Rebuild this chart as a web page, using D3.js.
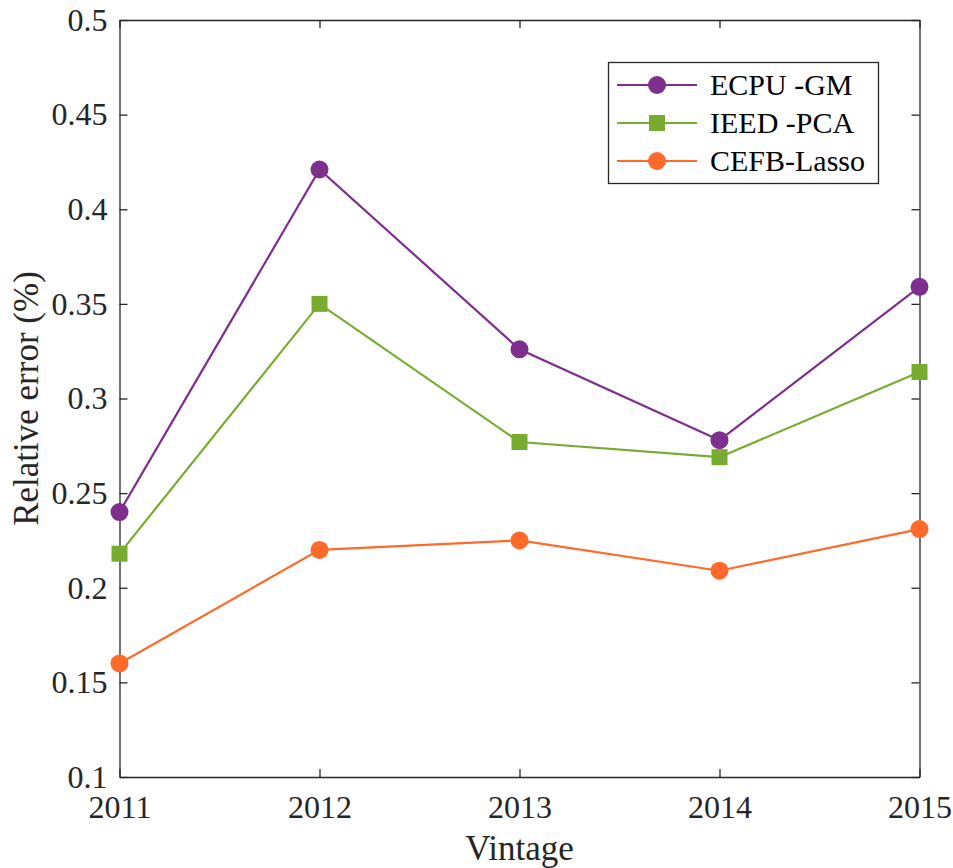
<!DOCTYPE html>
<html><head><meta charset="utf-8">
<script src="https://cdn.jsdelivr.net/npm/d3@7"></script>
<style>body{margin:0;background:#fff}</style>
</head><body>
<svg id="c" width="953" height="868"></svg>
<script>
const years = [2011, 2012, 2013, 2014, 2015];
const ecpuGM = [0.240, 0.421, 0.326, 0.278, 0.359];
const ieedPCA = [0.218, 0.350, 0.277, 0.269, 0.314];
const cefbLasso = [0.160, 0.220, 0.225, 0.209, 0.231];
const yTicks = [0.1, 0.15, 0.2, 0.25, 0.3, 0.35, 0.4, 0.45, 0.5];
const seriesNames = ["ECPU -GM", "IEED -PCA", "CEFB-Lasso"];
const seriesColors = ["#7E2F8E", "#77AC30", "#FF6929"];
const seriesMarkers = ["circle", "square", "circle"];

const svg = d3.select("#c");
const L = 119.5, R = 919.5, T = 20, B = 777;
const x = d3.scaleLinear().domain([2011, 2015]).range([L, R]);
const y = d3.scaleLinear().domain([0.1, 0.5]).range([B, T]);
const font = "'Liberation Serif', 'Times New Roman', serif";
const axCol = "#262626";

// axes
const gx = svg.append("g").attr("transform", `translate(0,${B})`)
  .call(d3.axisBottom(x).tickValues(years).tickFormat(d3.format("d")).tickSizeInner(-8).tickSizeOuter(0).tickPadding(18));
const gy = svg.append("g").attr("transform", `translate(${L},0)`)
  .call(d3.axisLeft(y).tickValues(yTicks).tickFormat(d => String(+d.toFixed(2))).tickSizeInner(-8).tickSizeOuter(0).tickPadding(12));
const gx2 = svg.append("g").attr("transform", `translate(0,${T})`)
  .call(d3.axisTop(x).tickValues(years).tickFormat("").tickSizeInner(-8).tickSizeOuter(0));
const gy2 = svg.append("g").attr("transform", `translate(${R},0)`)
  .call(d3.axisRight(y).tickValues(yTicks).tickFormat("").tickSizeInner(-8).tickSizeOuter(0));
[gx, gy, gx2, gy2].forEach(g => {
  g.attr("font-family", font).attr("font-size", 32);
  g.selectAll("path.domain").attr("stroke", axCol).attr("stroke-width", 1.3);
  g.selectAll(".tick line").attr("stroke", axCol).attr("stroke-width", 1.3);
  g.selectAll(".tick text").attr("fill", axCol).style("font-family", font).style("font-size", "32px");
});

// labels
svg.append("text").attr("x", x(2013)).attr("y", 860).attr("text-anchor", "middle")
  .style("font-family", font).style("font-size", "35px").attr("fill", axCol).text("Vintage");
svg.append("text").attr("transform", `translate(38,${(T + B) / 2}) rotate(-90)`).attr("text-anchor", "middle")
  .style("font-family", font).style("font-size", "35px").attr("fill", axCol).text("Relative error (%)");

const allSeries = [ecpuGM, ieedPCA, cefbLasso];
const line = d3.line().x((d, i) => x(years[i])).y(d => y(d));

function marker(g, type, cx, cy, color) {
  if (type === "circle") {
    g.append("circle").attr("cx", cx).attr("cy", cy).attr("r", 9).attr("fill", color);
  } else {
    g.append("rect").attr("x", cx - 8).attr("y", cy - 8).attr("width", 16).attr("height", 16).attr("fill", color);
  }
}

allSeries.forEach((vals, s) => {
  const g = svg.append("g");
  g.append("path").datum(vals).attr("d", line).attr("fill", "none")
    .attr("stroke", seriesColors[s]).attr("stroke-width", 2.2);
  vals.forEach((v, i) => marker(g, seriesMarkers[s], x(years[i]), y(v), seriesColors[s]));
});

// legend
const lg = svg.append("g");
lg.append("rect").attr("x", 608.5).attr("y", 62.5).attr("width", 270).attr("height", 121)
  .attr("fill", "#fff").attr("stroke", axCol).attr("stroke-width", 1.3);
seriesNames.forEach((name, s) => {
  const cy = 85 + s * 38;
  lg.append("line").attr("x1", 617).attr("x2", 697).attr("y1", cy).attr("y2", cy)
    .attr("stroke", seriesColors[s]).attr("stroke-width", 2.2);
  marker(lg, seriesMarkers[s], 657, cy, seriesColors[s]);
  lg.append("text").attr("x", 710).attr("y", cy + 10).style("font-family", font)
    .style("font-size", "30px").attr("fill", "#000").text(name);
});
</script>
</body></html>
